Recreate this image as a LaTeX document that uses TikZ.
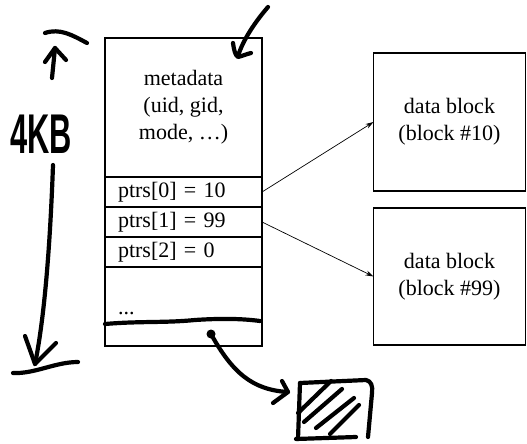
\documentclass[tikz,border=0pt]{standalone}
\usepackage{fontspec}
\setmainfont{Liberation Serif}
\newfontfamily\handfont{Liberation Sans}
\usetikzlibrary{arrows.meta}
\begin{document}
\begin{tikzpicture}[x=1pt,y=-1pt,
  box/.style={draw, line width=1.6pt, inner sep=0pt, outer sep=0pt,
    font=\fontsize{22}{27}\selectfont},
  inode/.style={box, minimum width=157pt},
  row/.style={inode, minimum height=30pt, text width=131pt, align=left},
  datablk/.style={box, minimum width=152pt, minimum height=138pt, align=center},
  ptr/.style={-{Stealth[length=8pt,width=5pt]}, line width=0.7pt},
  hand/.style={line width=4.2pt, line cap=round, line join=round},
  handtext/.style={font=\handfont\bfseries\fontsize{56}{56}\selectfont, inner sep=0pt}
]
\useasboundingbox (0,0) rectangle (527,444);

% inode
\node[inode, minimum height=139pt, align=center] (meta) at (183.5,107.5)
  {metadata\\(uid, gid,\\mode, \dots)};
\node[row] (p0) at (183.5,192) {ptrs[0] = 10};
\node[row] (p1) at (183.5,222) {ptrs[1] = 99};
\node[row] (p2) at (183.5,252) {ptrs[2] = 0};
\node[inode, minimum height=79pt] (rest) at (183.5,306.5) {};
\node[anchor=base west, inner sep=0pt, font=\fontsize{22}{27}\selectfont] (dots) at (118,314) {...};

% data blocks
\node[datablk] (d10) at (449.5,122) {data block\\(block \#10)};
\node[datablk, minimum height=137pt] (d99) at (449.5,276.5) {data block\\(block \#99)};

\draw[ptr] (p0.east) -- (d10.west);
\draw[ptr] (p1.east) -- (d99.west);

% handwritten annotations
\node[handtext] (kb) at (41,134) {\scalebox{0.55}[1]{4KB}};

% top bar and up arrow
\draw[hand] (45,33) .. controls (60,28) and (72,35) .. (87,43);
\draw[hand] (52,78) -- (55,48);
\draw[hand] (45,62) -- (55,48) -- (66,60);

% long down arrow
\draw[hand] (53,165) .. controls (50,250) and (44,320) .. (35,364);
\draw[hand] (25,336) -- (35,364) -- (56,343);
\draw[hand] (13,373) .. controls (35,374) and (55,362) .. (78,362);

% check-like arrow at the top right corner
\draw[hand] (268,7) .. controls (255,22) and (243,40) .. (238,56);
\draw[hand] (233,43) .. controls (234,50) and (235,55) .. (238,57) .. controls (242,56) and (247,54) .. (251,53);

% wavy line inside the inode
\draw[hand] (105,324) .. controls (140,321) and (165,323) .. (195,320)
  .. controls (225,318) and (245,319) .. (260,321);

% pointer dot and curved arrow to the hatched block
\coordinate (dot) at (211,334);
\coordinate (tip) at (288,392);
\fill (dot) circle (4.5pt);
\draw[hand] (dot) .. controls (232,372) and (252,390) .. (tip);
\draw[hand] (282,381) -- (tip) -- (273,403);

% hatched block
\draw[hand] (300,383) -- (366,380) .. controls (371,381) and (373,386) .. (372,393)
  -- (368,437);
\draw[hand] (300,383) -- (298,439);
\draw[hand] (296,439) -- (356,437);
\draw[hand] (298,413) -- (331,381);
\draw[hand] (304,422) -- (342,389);
\draw[hand] (316,428) -- (354,398);
\draw[hand] (330,434) -- (359,405);
\end{tikzpicture}
\end{document}
